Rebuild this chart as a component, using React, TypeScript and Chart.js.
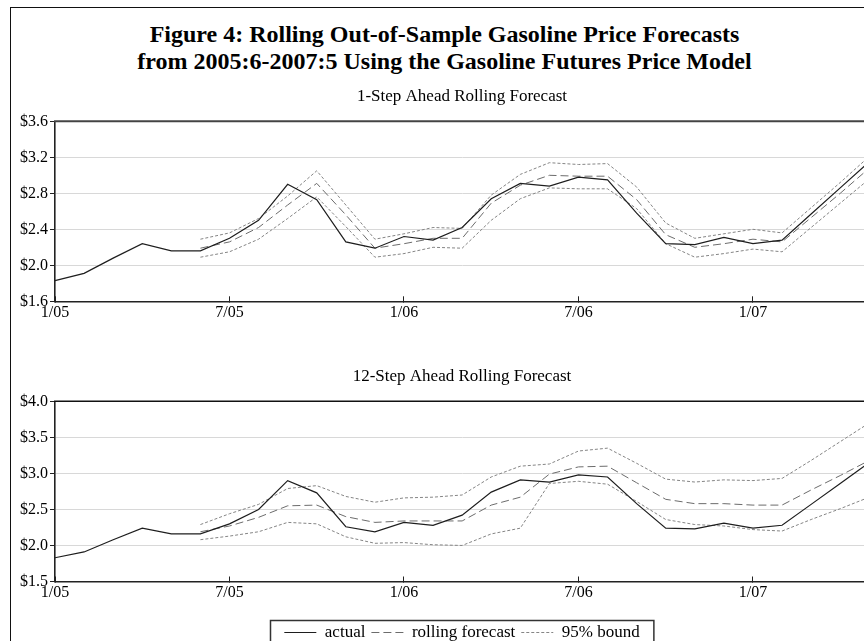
import React, { useEffect, useRef } from 'react';
import { Chart, registerables } from 'chart.js';

Chart.register(...registerables);

// ---------------- data ----------------
const MONTHS = [
  '1/05', '2/05', '3/05', '4/05', '5/05', '6/05', '7/05', '8/05', '9/05', '10/05', '11/05', '12/05',
  '1/06', '2/06', '3/06', '4/06', '5/06', '6/06', '7/06', '8/06', '9/06', '10/06', '11/06', '12/06',
  '1/07', '2/07', '3/07', '4/07', '5/07',
];
const X_TICK_LABELS = ['1/05', '7/05', '1/06', '7/06', '1/07'];

const ACTUAL = [
  1.83, 1.91, 2.08, 2.24, 2.16, 2.16, 2.30, 2.50, 2.90, 2.73, 2.26, 2.19,
  2.32, 2.28, 2.42, 2.74, 2.91, 2.88, 2.98, 2.95, 2.58, 2.24, 2.23, 2.31,
  2.24, 2.28, 2.57, 2.86, 3.15,
];

// 1-step ahead (forecasts start 2005:6)
const STEP1_FORECAST = [
  null, null, null, null, null,
  2.19, 2.26, 2.42, 2.67, 2.91, 2.56, 2.19,
  2.24, 2.30, 2.30, 2.69, 2.89, 3.00, 2.99, 2.99, 2.73, 2.34, 2.20, 2.24,
  2.29, 2.26, 2.53, 2.80, 3.08,
];
const STEP1_UPPER = [
  null, null, null, null, null,
  2.29, 2.36, 2.52, 2.77, 3.05, 2.67, 2.29,
  2.35, 2.42, 2.41, 2.78, 3.01, 3.14, 3.12, 3.13, 2.87, 2.47, 2.30, 2.35,
  2.40, 2.36, 2.64, 2.92, 3.21,
];
const STEP1_LOWER = [
  null, null, null, null, null,
  2.09, 2.15, 2.29, 2.52, 2.76, 2.43, 2.09,
  2.13, 2.20, 2.19, 2.50, 2.74, 2.86, 2.85, 2.85, 2.63, 2.24, 2.09, 2.13,
  2.18, 2.15, 2.42, 2.69, 2.96,
];

// 12-step ahead
const STEP12_FORECAST = [
  null, null, null, null, null,
  2.19, 2.27, 2.39, 2.55, 2.56, 2.40, 2.32,
  2.34, 2.34, 2.34, 2.56, 2.67, 2.99, 3.09, 3.10, 2.87, 2.64, 2.58, 2.58,
  2.56, 2.56, 2.77, 2.97, 3.18,
];
const STEP12_UPPER = [
  null, null, null, null, null,
  2.29, 2.44, 2.57, 2.79, 2.83, 2.68, 2.60,
  2.66, 2.67, 2.70, 2.95, 3.10, 3.13, 3.31, 3.35, 3.14, 2.92, 2.88, 2.91,
  2.90, 2.93, 3.18, 3.44, 3.70,
];
const STEP12_LOWER = [
  null, null, null, null, null,
  2.08, 2.13, 2.19, 2.32, 2.30, 2.12, 2.03,
  2.04, 2.01, 2.00, 2.16, 2.24, 2.86, 2.89, 2.85, 2.61, 2.36, 2.29, 2.27,
  2.22, 2.20, 2.36, 2.51, 2.67,
];

const Y1_TICKS = [1.6, 2.0, 2.4, 2.8, 3.2, 3.6];
const Y12_TICKS = [1.5, 2.0, 2.5, 3.0, 3.5, 4.0];

const MAIN_TITLE = [
  'Figure 4: Rolling Out-of-Sample Gasoline Price Forecasts',
  'from 2005:6-2007:5 Using the Gasoline Futures Price Model',
];
const PANEL1_TITLE = '1-Step Ahead Rolling Forecast';
const PANEL12_TITLE = '12-Step Ahead Rolling Forecast';
const SERIES_LABELS = ['actual', 'rolling forecast', '95% bound'];

// ---------------- styling ----------------
const SERIF = '"Liberation Serif", "Times New Roman", serif';
const CANVAS_W = 924;
const PLOT_RIGHT = 869.3;
const Y_AXIS_W = 55;

const framePlugin = {
  id: 'frame',
  afterDraw(chart: any, _args: any, opts: any) {
    const { ctx, chartArea } = chart;
    ctx.save();
    ctx.strokeStyle = opts.color || '#333';
    ctx.lineWidth = opts.width || 2;
    ctx.beginPath();
    ctx.moveTo(chartArea.left - 1, chartArea.top);
    ctx.lineTo(chartArea.right, chartArea.top);
    ctx.stroke();
    if (opts.legendBox && chart.legend && chart.legend.legendHitBoxes && chart.legend.legendHitBoxes.length) {
      const hb = chart.legend.legendHitBoxes;
      const left = Math.min(...hb.map((h: any) => h.left)) - 14;
      const right = Math.max(...hb.map((h: any) => h.left + h.width)) + 14;
      const top = hb[0].top - 4.5;
      const bottom = hb[0].top + hb[0].height + 4.5;
      ctx.strokeStyle = '#333';
      ctx.lineWidth = 1.5;
      ctx.strokeRect(Math.round(left) + 0.5, Math.round(top) + 0.5, right - left, bottom - top);
    }
    ctx.restore();
  },
};

function buildDatasets(fc: (number | null)[], up: (number | null)[], lo: (number | null)[]) {
  const common = { pointRadius: 0, pointHoverRadius: 0, tension: 0, fill: false, spanGaps: false, yAxisID: 'y' };
  return [
    { ...common, label: SERIES_LABELS[0], data: ACTUAL, borderColor: '#1e1e1e', borderWidth: 1.2, borderDash: [] },
    { ...common, label: SERIES_LABELS[1], data: fc, borderColor: '#6c6c6c', borderWidth: 1, borderDash: [8, 4] },
    { ...common, label: SERIES_LABELS[2], data: up, borderColor: '#858585', borderWidth: 1, borderDash: [3, 2] },
    { ...common, label: SERIES_LABELS[2] + ' lower', data: lo, borderColor: '#858585', borderWidth: 1, borderDash: [3, 2] },
  ];
}

interface PanelProps {
  top: number;
  height: number;
  title: string;
  titlePadTop: number;
  titlePadBottom: number;
  xHeight: number;
  yTicks: number[];
  fc: (number | null)[];
  up: (number | null)[];
  lo: (number | null)[];
  legend: boolean;
  frameColor: string;
  frameWidth: number;
}

function Panel(p: PanelProps) {
  const ref = useRef<HTMLCanvasElement>(null);
  useEffect(() => {
    if (!ref.current) return;
    const tickFont = { family: SERIF, size: 16 };
    const chart = new Chart(ref.current, {
      type: 'line',
      data: { labels: MONTHS, datasets: buildDatasets(p.fc, p.up, p.lo) as any },
      plugins: [framePlugin as any],
      options: {
        responsive: false,
        maintainAspectRatio: false,
        animation: false,
        devicePixelRatio: 1,
        events: [],
        layout: { padding: { left: 0, right: 0, top: 0, bottom: 0 } },
        plugins: {
          title: {
            display: true,
            text: p.title,
            color: '#000',
            font: { family: SERIF, size: 17, weight: 'normal' as any },
            padding: { top: p.titlePadTop, bottom: p.titlePadBottom },
          },
          legend: p.legend
            ? {
                display: true,
                position: 'bottom',
                labels: {
                  usePointStyle: true,
                  pointStyle: 'line',
                  pointStyleWidth: 32,
                  padding: 6,
                  color: '#000',
                  font: { family: SERIF, size: 17 },
                  generateLabels: (ch: any) => {
                    const base = (Chart.defaults.plugins.legend.labels as any).generateLabels(ch);
                    return base
                      .filter((it: any) => it.datasetIndex !== 3)
                      .map((it: any) => {
                        const ds: any = ch.data.datasets[it.datasetIndex];
                        return {
                          ...it,
                          pointStyle: 'line',
                          lineDash: ds.borderDash,
                          strokeStyle: ds.borderColor,
                          fillStyle: ds.borderColor,
                          lineWidth: ds.borderWidth,
                        };
                      });
                  },
                },
              }
            : { display: false },
          tooltip: { enabled: false },
          frame: { color: p.frameColor, width: p.frameWidth, legendBox: p.legend },
        } as any,
        scales: {
          x: {
            type: 'category',
            offset: false,
            grid: {
              display: true,
              drawOnChartArea: false,
              drawTicks: true,
              tickLength: -5,
              tickWidth: 1,
              tickColor: (c: any) => (X_TICK_LABELS.includes(MONTHS[c.index]) ? '#222' : 'rgba(0,0,0,0)'),
            },
            border: { display: true, color: '#222', width: 1.6 },
            ticks: {
              autoSkip: false,
              maxRotation: 0,
              minRotation: 0,
              padding: 7,
              color: '#000',
              font: tickFont,
              callback: (_v: any, i: number) => (X_TICK_LABELS.includes(MONTHS[i]) ? MONTHS[i] : ''),
            },
            afterFit: (s: any) => {
              s.height = p.xHeight;
            },
          },
          y: {
            type: 'linear',
            position: 'left',
            min: p.yTicks[0],
            max: p.yTicks[p.yTicks.length - 1],
            grid: { color: '#d8d8d8', lineWidth: 1, drawTicks: true, tickLength: 5, tickColor: '#222' },
            border: { display: true, color: '#222', width: 1.6 },
            ticks: {
              stepSize: p.yTicks[1] - p.yTicks[0],
              padding: 2,
              color: '#000',
              font: tickFont,
              callback: (v: any) => '$' + Number(v).toFixed(1),
            },
            afterFit: (s: any) => {
              s.width = Y_AXIS_W;
            },
          },
          // invisible right-hand spacer axis (the plot runs past the picture's right edge)
          yRight: {
            type: 'linear',
            position: 'right',
            display: true,
            grid: { display: false, drawTicks: false },
            border: { display: false },
            ticks: { display: false },
            afterFit: (s: any) => {
              s.width = CANVAS_W - PLOT_RIGHT;
            },
          },
        } as any,
      },
    });
    return () => chart.destroy();
  }, []);
  return (
    <canvas
      ref={ref}
      width={CANVAS_W}
      height={p.height}
      style={{ position: 'absolute', left: 0, top: p.top, width: CANVAS_W, height: p.height }}
    />
  );
}

export default function App() {
  return (
    <div
      style={{
        position: 'absolute',
        left: 0,
        top: 0,
        width: 864,
        height: 641,
        overflow: 'hidden',
        background: '#fff',
      }}
    >
      <div
        style={{
          position: 'absolute',
          left: 10,
          top: 7,
          width: 920,
          height: 700,
          border: '1px solid #111',
        }}
      />
      <div
        style={{
          position: 'absolute',
          left: 0,
          top: 21,
          width: 889,
          textAlign: 'center',
          fontFamily: SERIF,
          fontWeight: 'bold',
          fontSize: 24,
          lineHeight: '27px',
          color: '#000',
          whiteSpace: 'nowrap',
        }}
      >
        {MAIN_TITLE[0]}
        <br />
        {MAIN_TITLE[1]}
      </div>
      <Panel
        top={80}
        height={246}
        title={PANEL1_TITLE}
        titlePadTop={6.8}
        titlePadBottom={14.1}
        xHeight={246 - (301.3 - 80)}
        yTicks={Y1_TICKS}
        fc={STEP1_FORECAST}
        up={STEP1_UPPER}
        lo={STEP1_LOWER}
        legend={false}
        frameColor="#444"
        frameWidth={2}
      />
      <Panel
        top={340}
        height={311}
        title={PANEL12_TITLE}
        titlePadTop={26.8}
        titlePadBottom={14.1}
        xHeight={36.5}
        yTicks={Y12_TICKS}
        fc={STEP12_FORECAST}
        up={STEP12_UPPER}
        lo={STEP12_LOWER}
        legend={true}
        frameColor="#111"
        frameWidth={1.5}
      />
    </div>
  );
}
